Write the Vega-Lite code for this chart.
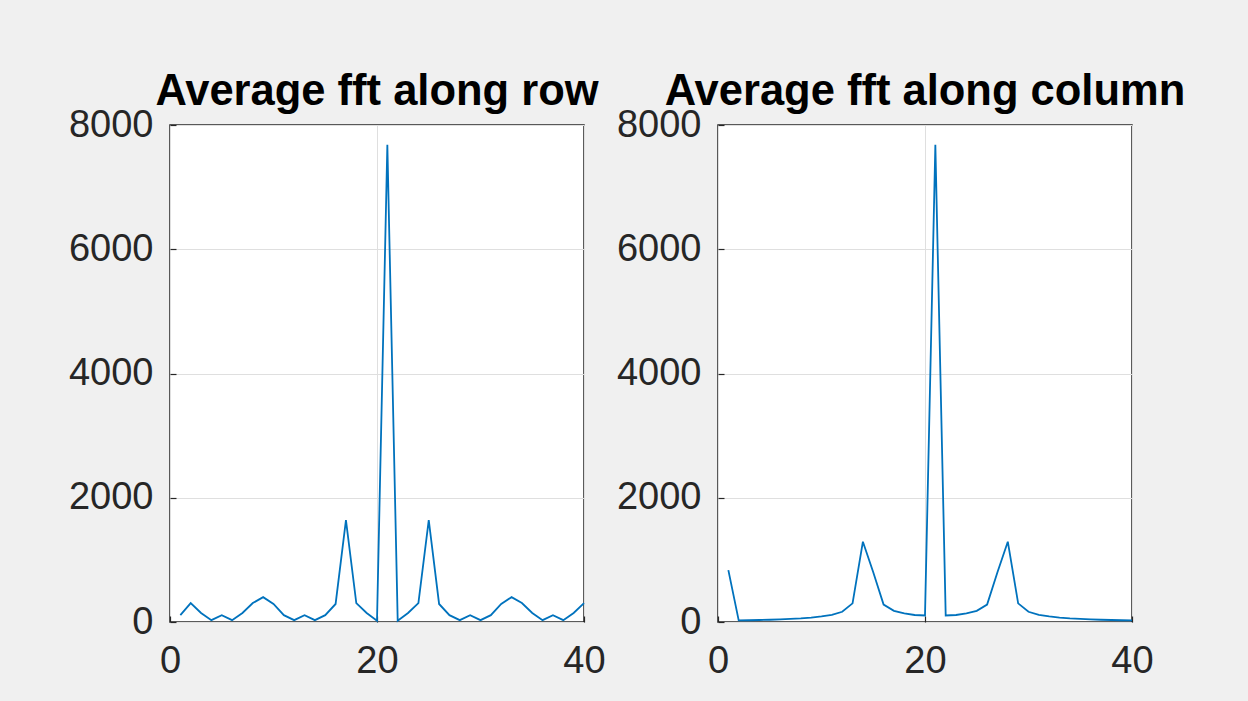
{
  "$schema": "https://vega.github.io/schema/vega-lite/v6.json",
  "autosize": {"type": "pad"},
  "padding": {"left": 67, "top": 68, "right": 72, "bottom": 22},
  "background": "#f0f0f0",
  "bounds": "flush",
  "spacing": 134,
  "config": {
    "view": {"fill": "white", "stroke": "#262626", "strokeWidth": 1.5},
    "font": "Liberation Sans",
    "axis": {
      "domain": false,
      "grid": true,
      "gridColor": "#dfdfdf",
      "gridWidth": 1,
      "ticks": true,
      "tickSize": -6,
      "tickColor": "#262626",
      "tickWidth": 1.2,
      "labelFont": "Liberation Sans",
      "labelFontSize": 38,
      "labelColor": "#262626",
      "labelFlush": false,
      "labelOverlap": false,
      "format": "d",
      "title": null
    },
    "axisX": {"labelPadding": 26},
    "axisY": {"labelPadding": 23},
    "title": {
      "font": "Liberation Sans",
      "fontSize": 43.5,
      "fontWeight": "bold",
      "color": "#000000",
      "anchor": "middle",
      "frame": "group",
      "baseline": "alphabetic",
      "offset": -8
    }
  },
  "datasets": {
    "row": [
      {"x": 1, "v": 110}, {"x": 2, "v": 305}, {"x": 3, "v": 145}, {"x": 4, "v": 30}, {"x": 5, "v": 110},
      {"x": 6, "v": 30}, {"x": 7, "v": 145}, {"x": 8, "v": 305}, {"x": 9, "v": 400}, {"x": 10, "v": 290},
      {"x": 11, "v": 110}, {"x": 12, "v": 30}, {"x": 13, "v": 110}, {"x": 14, "v": 30}, {"x": 15, "v": 110},
      {"x": 16, "v": 290}, {"x": 17, "v": 1640}, {"x": 18, "v": 305}, {"x": 19, "v": 145}, {"x": 20, "v": 20},
      {"x": 21, "v": 7680}, {"x": 22, "v": 20}, {"x": 23, "v": 145}, {"x": 24, "v": 305}, {"x": 25, "v": 1640},
      {"x": 26, "v": 290}, {"x": 27, "v": 110}, {"x": 28, "v": 30}, {"x": 29, "v": 110}, {"x": 30, "v": 30},
      {"x": 31, "v": 110}, {"x": 32, "v": 290}, {"x": 33, "v": 400}, {"x": 34, "v": 305}, {"x": 35, "v": 145},
      {"x": 36, "v": 30}, {"x": 37, "v": 110}, {"x": 38, "v": 30}, {"x": 39, "v": 145}, {"x": 40, "v": 305}
    ],
    "col": [
      {"x": 1, "v": 835}, {"x": 2, "v": 25}, {"x": 3, "v": 28}, {"x": 4, "v": 32}, {"x": 5, "v": 36},
      {"x": 6, "v": 42}, {"x": 7, "v": 50}, {"x": 8, "v": 58}, {"x": 9, "v": 70}, {"x": 10, "v": 90},
      {"x": 11, "v": 115}, {"x": 12, "v": 165}, {"x": 13, "v": 300}, {"x": 14, "v": 1293}, {"x": 15, "v": 800},
      {"x": 16, "v": 280}, {"x": 17, "v": 180}, {"x": 18, "v": 140}, {"x": 19, "v": 113}, {"x": 20, "v": 105},
      {"x": 21, "v": 7680}, {"x": 22, "v": 105}, {"x": 23, "v": 113}, {"x": 24, "v": 140}, {"x": 25, "v": 180},
      {"x": 26, "v": 280}, {"x": 27, "v": 800}, {"x": 28, "v": 1293}, {"x": 29, "v": 300}, {"x": 30, "v": 165},
      {"x": 31, "v": 115}, {"x": 32, "v": 90}, {"x": 33, "v": 70}, {"x": 34, "v": 58}, {"x": 35, "v": 50},
      {"x": 36, "v": 42}, {"x": 37, "v": 36}, {"x": 38, "v": 32}, {"x": 39, "v": 28}, {"x": 40, "v": 25}
    ]
  },
  "hconcat": [
    {
      "title": "Average fft along row",
      "width": 414,
      "height": 497,
      "data": {"name": "row"},
      "mark": {"type": "line", "color": "#0072BD", "strokeWidth": 1.8},
      "encoding": {
        "x": {"field": "x", "type": "quantitative", "scale": {"domain": [0, 40], "nice": false}, "axis": {"values": [0, 20, 40]}},
        "y": {"field": "v", "type": "quantitative", "scale": {"domain": [0, 8000], "nice": false}, "axis": {"values": [0, 2000, 4000, 6000, 8000]}}
      }
    },
    {
      "title": "Average fft along column",
      "width": 414,
      "height": 497,
      "data": {"name": "col"},
      "mark": {"type": "line", "color": "#0072BD", "strokeWidth": 1.8},
      "encoding": {
        "x": {"field": "x", "type": "quantitative", "scale": {"domain": [0, 40], "nice": false}, "axis": {"values": [0, 20, 40]}},
        "y": {"field": "v", "type": "quantitative", "scale": {"domain": [0, 8000], "nice": false}, "axis": {"values": [0, 2000, 4000, 6000, 8000]}}
      }
    }
  ]
}
